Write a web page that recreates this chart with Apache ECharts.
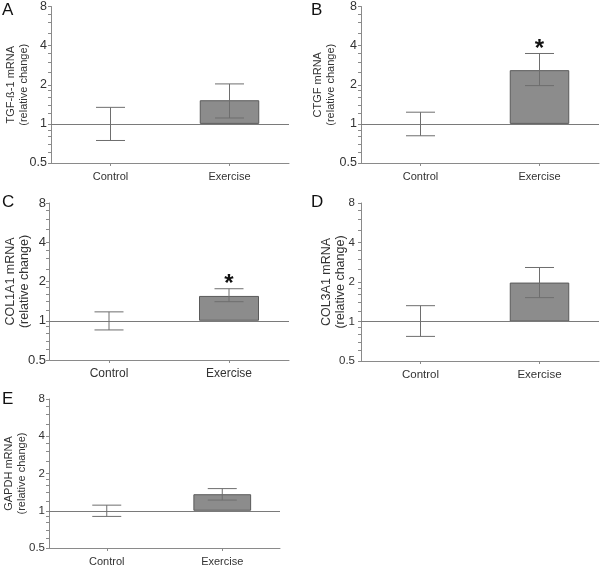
<!DOCTYPE html>
<html><head><meta charset="utf-8">
<script src="https://cdn.jsdelivr.net/npm/echarts@6/dist/echarts.min.js"></script>
<style>html,body{margin:0;padding:0;background:#fff}#c{width:600px;height:567px}</style>
</head><body><div id="c"></div>
<script>
const categories = ['Control', 'Exercise'];
const panelLetters = ['A', 'B', 'C', 'D', 'E'];
const yNames = ['TGF-ß-1 mRNA', 'CTGF mRNA', 'COL1A1 mRNA', 'COL3A1 mRNA', 'GAPDH mRNA'];
const meanA = [1, 1.52], lowA = [0.745, 1.11], highA = [1.34, 2.03], sigA = [false, false];
const meanB = [1, 2.59], lowB = [0.81, 1.97], highB = [1.23, 3.48], sigB = [false, true];
const meanC = [1, 1.55], lowC = [0.85, 1.40], highC = [1.17, 1.76], sigC = [false, true];
const meanD = [1, 1.98], lowD = [0.77, 1.52], highD = [1.32, 2.58], sigD = [false, false];
const meanE = [1, 1.36], lowE = [0.90, 1.22], highE = [1.11, 1.51], sigE = [false, false];
const yTickLabels = [0.5, 1, 2, 4, 8];
const yMinorTicks = [0.6, 0.7, 0.8, 0.9, 1.2, 1.4, 1.6, 1.8, 2.5, 3, 3.5, 5, 6, 7];

const panels = [
  {mean: meanA, low: lowA, high: highA, sig: sigA},
  {mean: meanB, low: lowB, high: highB, sig: sigB},
  {mean: meanC, low: lowC, high: highC, sig: sigC},
  {mean: meanD, low: lowD, high: highD, sig: sigD},
  {mean: meanE, low: lowE, high: highE, sig: sigE}
];
const grids = [
  {left: 51, top: 4, width: 238, height: 159, xfs: 11, yfs: 12.5, nfs: 11, ng: 21, lm: 4},
  {left: 361, top: 4, width: 238, height: 159, xfs: 11, yfs: 12.5, nfs: 11, ng: 24, lm: 4},
  {left: 49, top: 203, width: 240, height: 157, xfs: 12, yfs: 13, nfs: 12.5, ng: 17, lm: 3},
  {left: 361, top: 203, width: 238, height: 158, xfs: 11.5, yfs: 11.5, nfs: 12.5, ng: 13, lm: 6},
  {left: 49, top: 399, width: 231, height: 154, xfs: 11, yfs: 11.5, nfs: 11, ng: 21, lm: 4}
];
const letterPos = [[2, 2], [311, 2], [2, 194], [311, 194], [2, 391]];

const axisGrey = '#8a8a8a';
const txt = '#333';
const option = {
  animation: false,
  grid: grids.map(g => ({left: g.left, top: g.top, width: g.width, height: g.height})),
  xAxis: grids.map((g, i) => ({
    type: 'category', gridIndex: i, data: categories,
    axisLine: {lineStyle: {color: axisGrey, width: 1}},
    axisTick: {show: true, alignWithLabel: true, length: 3, lineStyle: {color: axisGrey}},
    axisLabel: {color: txt, fontSize: g.xfs, fontFamily: 'Liberation Sans, Arial', margin: 8}
  })),
  yAxis: grids.map((g, i) => ({
    type: 'log', logBase: 2, gridIndex: i, min: 0.5, max: 8, interval: 1,
    name: yNames[i] + '\n(relative change)', nameLocation: 'middle', nameGap: g.ng,
    nameMoveOverlap: false,
    nameTextStyle: {color: txt, fontSize: g.nfs, fontFamily: 'Liberation Sans, Arial', lineHeight: g.nfs + 2},
    axisLine: {show: true, lineStyle: {color: axisGrey, width: 1}},
    axisTick: {show: true, length: 3, lineStyle: {color: axisGrey},
      customValues: yTickLabels.concat(yMinorTicks)},
    axisLabel: {color: txt, fontSize: g.yfs, fontFamily: 'Liberation Sans, Arial', margin: g.lm,
      customValues: yTickLabels,
      formatter: v => String(v)},
    splitLine: {show: false}
  })),
  graphic: panelLetters.map((l, i) => ({
    type: 'text', left: letterPos[i][0], top: letterPos[i][1],
    style: {text: l, fontSize: 17, fill: '#111', fontFamily: 'Liberation Sans, Arial'}
  })),
  series: []
};

panels.forEach((p, i) => {
  option.series.push({
    type: 'bar', xAxisIndex: i, yAxisIndex: i, barWidth: '50%',
    data: p.mean.map(m => ({value: m, itemStyle: m === 1 ? {borderWidth: 0, opacity: 0} : {}})),
    itemStyle: {color: '#8c8c8c', borderColor: '#5a5a5a', borderWidth: 1},
    markLine: {silent: true, symbol: 'none', label: {show: false},
      lineStyle: {color: '#7a7a7a', width: 1, type: 'solid'},
      data: [{yAxis: 1}]}
  });
  option.series.push({
    type: 'custom', xAxisIndex: i, yAxisIndex: i, z: 10,
    data: p.mean.map((m, j) => [j, p.low[j], p.high[j], p.sig[j] ? 1 : 0]),
    renderItem: (params, api) => {
      const x = api.value(0);
      const lo = api.coord([x, api.value(1)]);
      const hi = api.coord([x, api.value(2)]);
      const hw = 14.5;
      const st = {stroke: '#6e6e6e', lineWidth: 1};
      const children = [
        {type: 'line', shape: {x1: hi[0], y1: hi[1], x2: lo[0], y2: lo[1]}, style: st},
        {type: 'line', shape: {x1: hi[0] - hw, y1: hi[1], x2: hi[0] + hw, y2: hi[1]}, style: st},
        {type: 'line', shape: {x1: lo[0] - hw, y1: lo[1], x2: lo[0] + hw, y2: lo[1]}, style: st}
      ];
      if (api.value(3)) {
        children.push({type: 'text', x: hi[0], y: hi[1] + 8,
          style: {text: '*', fontSize: 24, fontWeight: 'bold', fill: '#111', align: 'center', verticalAlign: 'bottom',
            fontFamily: 'Liberation Sans, Arial'}});
      }
      return {type: 'group', children};
    }
  });
});

const chart = echarts.init(document.getElementById('c'), null, {renderer: 'canvas'});
chart.setOption(option);
</script></body></html>
